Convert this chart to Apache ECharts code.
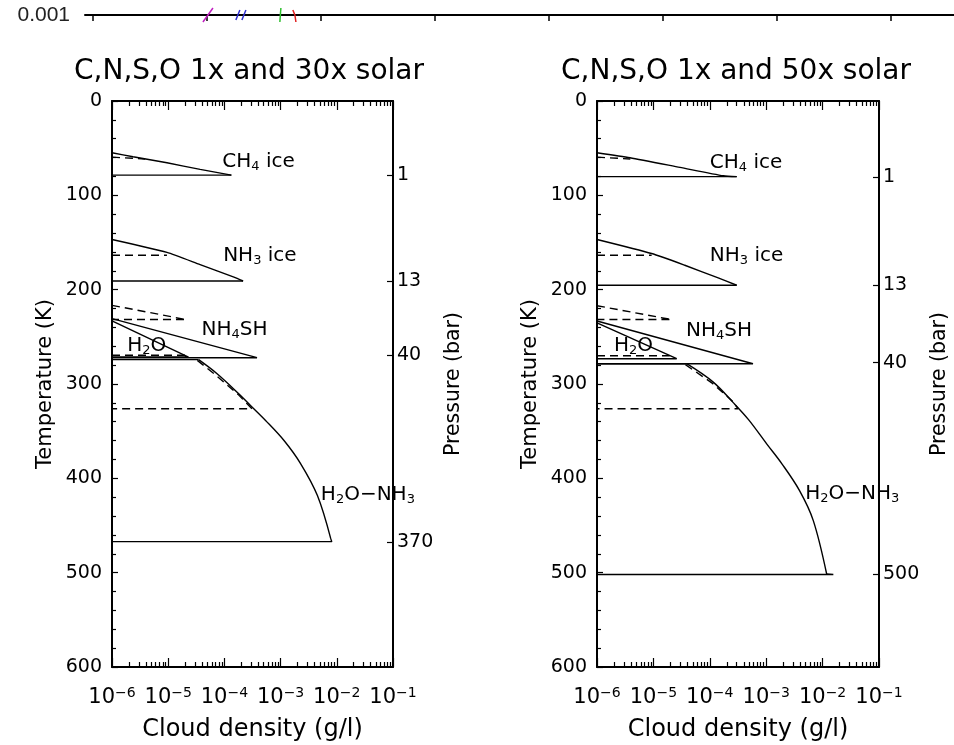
<!DOCTYPE html>
<html lang="en">
<head>
<meta charset="UTF-8">
<title>Cloud density</title>
<script src="https://cdn.jsdelivr.net/npm/echarts@6/dist/echarts.min.js"></script>
<style>
  html, body { margin: 0; padding: 0; background: #fff; }
  #chart { width: 954px; height: 745px; }
</style>
</head>
<body>
<div id="chart"></div>
<script>
// ---- data: [cloud density (g/l), temperature (K)] ----
// left panel, 30x solar (solid) and 1x solar (dashed)
var L_CH4 = [[1e-6, 54.9], [2.37e-6, 59.1], [9.5e-6, 65.5], [3.7e-5, 72.5], [1.33e-4, 78.6], [1e-6, 78.6]];
var L_CH4_1x = [[1e-6, 59.5], [3.9e-6, 61.5]];
var L_NH3 = [[1e-6, 146.8], [9.5e-6, 160.5], [3.7e-5, 173.5], [1.48e-4, 186.8], [2.15e-4, 190.8], [1e-6, 190.8]];
var L_NH3_1x = [[1e-6, 163.5], [9.5e-6, 163.5]];
var L_NH4SH = [[1e-6, 230.7], [3.8e-4, 272.1], [1e-6, 272.1]];
var L_NH4SH_1x = [[1e-6, 216.6], [2.1e-5, 231.7], [1e-6, 231.7]];
var L_H2O = [[1e-6, 233.2], [2.3e-5, 271.4], [1e-6, 271.4]];
var L_H2O_1x = [[1e-6, 269.5], [2e-5, 269.5]];
// H2O-NH3 solution cloud: top, profile, tip, base
var L_SOL = [[1e-6, 274.2], [3.48e-5, 274.2], [7.41e-5, 289.1], [1.8e-4, 310.3], [2.91e-4, 322.7], [5.4e-4, 338.6],
             [1.15e-3, 359.9], [2.28e-3, 384.6], [4.52e-3, 418.3], [7.82e-3, 464.2], [8.15e-3, 467.1], [1e-6, 467.1]];
var L_SOL_1x = [[3.3e-5, 275], [7e-5, 290.5], [1.75e-4, 311], [3.1e-4, 326.3], [1e-6, 326.3]];

// right panel, 50x solar (solid) and 1x solar (dashed)
var R_CH4 = [[1e-6, 54.9], [3.85e-6, 60.2], [2.96e-5, 70.4], [1.74e-4, 79.3], [3.0e-4, 80.2], [1e-6, 80.2]];
var R_CH4_1x = [[1e-6, 59.5], [3.9e-6, 61.5]];
var R_NH3 = [[1e-6, 146.8], [9.3e-6, 161.7], [3.6e-5, 174.1], [1.41e-4, 187.6], [3.0e-4, 195.3], [1e-6, 195.3]];
var R_NH3_1x = [[1e-6, 163.5], [9.3e-6, 163.5]];
var R_NH4SH = [[1e-6, 233.2], [5.83e-4, 278.5], [1e-6, 278.5]];
var R_NH4SH_1x = [[1e-6, 217], [2.1e-5, 231.7], [1e-6, 231.7]];
var R_H2O = [[1e-6, 235.3], [2.59e-5, 273.2], [1e-6, 273.2]];
var R_H2O_1x = [[1e-6, 270], [1.95e-5, 270]];
var R_SOL = [[1e-6, 278.5], [3.9e-5, 278.5], [1.15e-4, 298], [2.63e-4, 320], [4.9e-4, 338], [1.02e-3, 363.4],
             [1.9e-3, 384.6], [3.9e-3, 413], [6.84e-3, 444.8], [1.18e-2, 501.4], [1.55e-2, 502], [1e-6, 502]];
var R_SOL_1x = [[3.7e-5, 279.5], [1.1e-4, 299], [2.5e-4, 318], [3.2e-4, 326.3], [1e-6, 326.3]];

// cloud labels
var cloudNames = ['CH{s|4} ice', 'NH{s|3} ice', 'NH{s|4}SH', 'H{s|2}O', 'H{s|2}O−NH{s|3}'];
var L_labelPos = [[9.2e-5, 64.7], [9.5e-5, 164.4], [3.9e-5, 242.8], [1.86e-6, 259.8], [5.2e-3, 417.8]];
var R_labelPos = [[1e-4, 65.7], [1e-4, 164.4], [3.8e-5, 243.9], [2e-6, 259.8], [4.9e-3, 416.8]];

// pressure axis (bar) at temperature positions
var L_pressT = [78.9, 190.8, 269, 467.5];
var L_pressLabels = ['1', '13', '40', '370'];
var R_pressT = [81, 195.3, 277.4, 502];
var R_pressLabels = ['1', '13', '40', '500'];

var titles = ['C,N,S,O 1x and 30x solar', 'C,N,S,O 1x and 50x solar'];
var decades = [1e-6, 1e-5, 1e-4, 1e-3, 1e-2, 1e-1];

// fragment of the figure above (cut off at the top)
var stripTicks = [0, 1, 2, 3, 4, 5, 6, 7];
var fragPurple = [[1.053, 1.75e-3], [0.965, 5.71e-4]];
var fragBlue1 = [[1.289, 1.49e-3], [1.254, 6.7e-4]];
var fragBlue2 = [[1.342, 1.49e-3], [1.307, 6.7e-4]];
var fragGreen = [[1.649, 1.75e-3], [1.640, 5.71e-4]];
var fragRed = [[1.754, 1.49e-3], [1.772, 1e-3], [1.781, 5.71e-4]];

// ---- chart ----
var FONT = 'DejaVu Sans';
var minorTicks = [];
for (var e = -6; e <= -2; e++) {
    for (var k = 2; k <= 9; k++) minorTicks.push(k * Math.pow(10, e));
}

var chart = echarts.init(document.getElementById('chart'));

function logX(grid, pos, major, withLabels) {
    var ax = {
        type: 'log', gridIndex: grid, position: pos, min: 1e-6, max: 0.1,
        axisLine: { show: major, onZero: false, lineStyle: { color: '#000', width: 2 } },
        axisTick: { show: true, inside: true, length: major ? 9 : 5,
                    customValues: major ? decades : minorTicks,
                    lineStyle: { color: '#000', width: 1.2 } },
        axisLabel: { show: false },
        splitLine: { show: false }
    };
    if (withLabels) {
        ax.axisLabel = {
            show: true, customValues: decades, margin: 19, color: '#000',
            fontFamily: FONT,
            formatter: function (v) {
                var p = Math.round(Math.log10(v));
                return '{a|10}{b|−' + (-p) + '}';
            },
            rich: {
                a: { fontSize: 21, fontFamily: FONT, color: '#000' },
                b: { fontSize: 14, fontFamily: FONT, color: '#000', padding: [0, 0, 10, 0] }
            }
        };
        ax.name = 'Cloud density (g/l)';
        ax.nameLocation = 'middle';
        ax.nameGap = 51;
        ax.nameTextStyle = { fontSize: 24, fontFamily: FONT, color: '#000' };
    }
    return ax;
}

function tempY(grid) {
    return {
        type: 'value', gridIndex: grid, position: 'left', inverse: true,
        min: 0, max: 600, interval: 100,
        axisLine: { show: true, onZero: false, lineStyle: { color: '#000', width: 2 } },
        axisTick: { show: true, inside: true, length: 6, lineStyle: { color: '#000', width: 1.2 } },
        minorTick: { show: true, splitNumber: 5, length: 4, lineStyle: { color: '#000', width: 1.2 } },
        axisLabel: { color: '#000', fontSize: 19, fontFamily: FONT, margin: 10 },
        splitLine: { show: false },
        name: 'Temperature (K)', nameLocation: 'middle', nameRotate: 90, nameGap: 56,
        nameTextStyle: { fontSize: 21, fontFamily: FONT, color: '#000' }
    };
}

function pressY(grid, temps, labels) {
    return {
        type: 'value', gridIndex: grid, position: 'right', inverse: true,
        min: 0, max: 600,
        axisLine: { show: true, onZero: false, lineStyle: { color: '#000', width: 2 } },
        axisTick: { show: true, inside: true, length: 6, customValues: temps,
                    lineStyle: { color: '#000', width: 1.2 } },
        axisLabel: {
            customValues: temps, color: '#000', fontSize: 19, fontFamily: FONT, margin: 4,
            formatter: function (v) {
                var best = 0;
                for (var i = 1; i < temps.length; i++) {
                    if (Math.abs(temps[i] - v) < Math.abs(temps[best] - v)) best = i;
                }
                return labels[best];
            }
        },
        splitLine: { show: false },
        name: 'Pressure (bar)', nameLocation: 'middle', nameRotate: 90, nameGap: 50,
        nameTextStyle: { fontSize: 20.5, fontFamily: FONT, color: '#000' }
    };
}

function curve(data, xi, yi, dashed, smooth) {
    return {
        type: 'line', xAxisIndex: xi, yAxisIndex: yi, data: data,
        symbol: 'none', silent: true, clip: false, smooth: smooth || false,
        lineStyle: { color: '#000', width: 1.4, type: dashed ? [8, 5] : 'solid' }
    };
}

// ice cloud: smooth top profile down to the tip, straight base
function iceCloud(data, xi, yi) {
    var n = data.length;
    return [
        curve(data.slice(0, n - 1), xi, yi, false, 0.2),
        curve(data.slice(n - 2), xi, yi, false)
    ];
}

// solution cloud: straight top segment, smooth profile, straight tip + base
function solCloud(data, xi, yi) {
    var n = data.length;
    return [
        curve(data.slice(0, 2), xi, yi, false),
        curve(data.slice(1, n - 2), xi, yi, false, 0.35),
        curve(data.slice(n - 3), xi, yi, false)
    ];
}

function labelSeries(pos, xi, yi) {
    return {
        type: 'scatter', xAxisIndex: xi, yAxisIndex: yi, symbolSize: 0, silent: true,
        itemStyle: { opacity: 1 },
        data: pos.map(function (p, i) { return { value: p, name: cloudNames[i] }; }),
        label: {
            show: true, position: 'right', distance: 0, color: '#000',
            fontSize: 20, fontFamily: FONT,
            formatter: function (p) { return p.name; },
            rich: { s: { fontSize: 13, fontFamily: FONT, color: '#000', padding: [9, 0, 0, 0] } }
        }
    };
}

function frag(data, color) {
    return {
        type: 'line', xAxisIndex: 0, yAxisIndex: 0, data: data, symbol: 'none',
        silent: true, clip: false, lineStyle: { color: color, width: 1.5 }
    };
}

var option = {
    backgroundColor: '#fff',
    animation: false,
    textStyle: { fontFamily: FONT },
    grid: [
        { left: 85, right: -5, top: -100, height: 115, outerBoundsMode: 'none', containLabel: false },
        { left: 112, top: 101, width: 281, height: 566, outerBoundsMode: 'none', containLabel: false },
        { left: 597, top: 101, width: 282, height: 566, outerBoundsMode: 'none', containLabel: false }
    ],
    xAxis: [
        {
            type: 'value', gridIndex: 0, min: -0.07, max: 7.6,
            axisLine: { onZero: false, lineStyle: { color: '#000', width: 2 } },
            axisTick: { show: true, inside: false, length: 6, customValues: stripTicks,
                        lineStyle: { color: '#000', width: 1.5 } },
            axisLabel: { show: false }, splitLine: { show: false }
        },
        logX(1, 'bottom', true, true),
        logX(1, 'bottom', false, false),
        logX(1, 'top', true, false),
        logX(1, 'top', false, false),
        logX(2, 'bottom', true, true),
        logX(2, 'bottom', false, false),
        logX(2, 'top', true, false),
        logX(2, 'top', false, false)
    ],
    yAxis: [
        {
            type: 'log', gridIndex: 0, min: 0.001, max: 10,
            axisLine: { show: false }, axisTick: { show: false }, splitLine: { show: false },
            axisLabel: {
                customValues: [0.001], color: '#222', fontSize: 21, fontFamily: 'Liberation Sans', margin: 15,
                formatter: function () { return '0.001'; }
            }
        },
        tempY(1),
        pressY(1, L_pressT, L_pressLabels),
        tempY(2),
        pressY(2, R_pressT, R_pressLabels)
    ],
    graphic: [
        { type: 'text', x: 249, y: 72, style: { text: titles[0], fontSize: 28, fontFamily: FONT, fill: '#000',
          textAlign: 'center', textVerticalAlign: 'middle' } },
        { type: 'text', x: 736, y: 72, style: { text: titles[1], fontSize: 28, fontFamily: FONT, fill: '#000',
          textAlign: 'center', textVerticalAlign: 'middle' } }
    ],
    series: [
        frag(fragPurple, '#c020c0'),
        frag(fragBlue1, '#3030d0'),
        frag(fragBlue2, '#3030d0'),
        frag(fragGreen, '#30c030'),
        frag(fragRed, '#e02020'),

        curve(L_CH4_1x, 1, 1, true),
        curve(L_NH3_1x, 1, 1, true),
        curve(L_NH4SH, 1, 1, false), curve(L_NH4SH_1x, 1, 1, true),
        curve(L_H2O, 1, 1, false), curve(L_H2O_1x, 1, 1, true),
        curve(L_SOL_1x, 1, 1, true),
        labelSeries(L_labelPos, 1, 1),

        curve(R_CH4_1x, 5, 3, true),
        curve(R_NH3_1x, 5, 3, true),
        curve(R_NH4SH, 5, 3, false), curve(R_NH4SH_1x, 5, 3, true),
        curve(R_H2O, 5, 3, false), curve(R_H2O_1x, 5, 3, true),
        curve(R_SOL_1x, 5, 3, true),
        labelSeries(R_labelPos, 5, 3)
    ].concat(
        iceCloud(L_CH4, 1, 1), iceCloud(L_NH3, 1, 1), solCloud(L_SOL, 1, 1),
        iceCloud(R_CH4, 5, 3), iceCloud(R_NH3, 5, 3), solCloud(R_SOL, 5, 3)
    )
};
chart.setOption(option);
</script>
</body>
</html>
